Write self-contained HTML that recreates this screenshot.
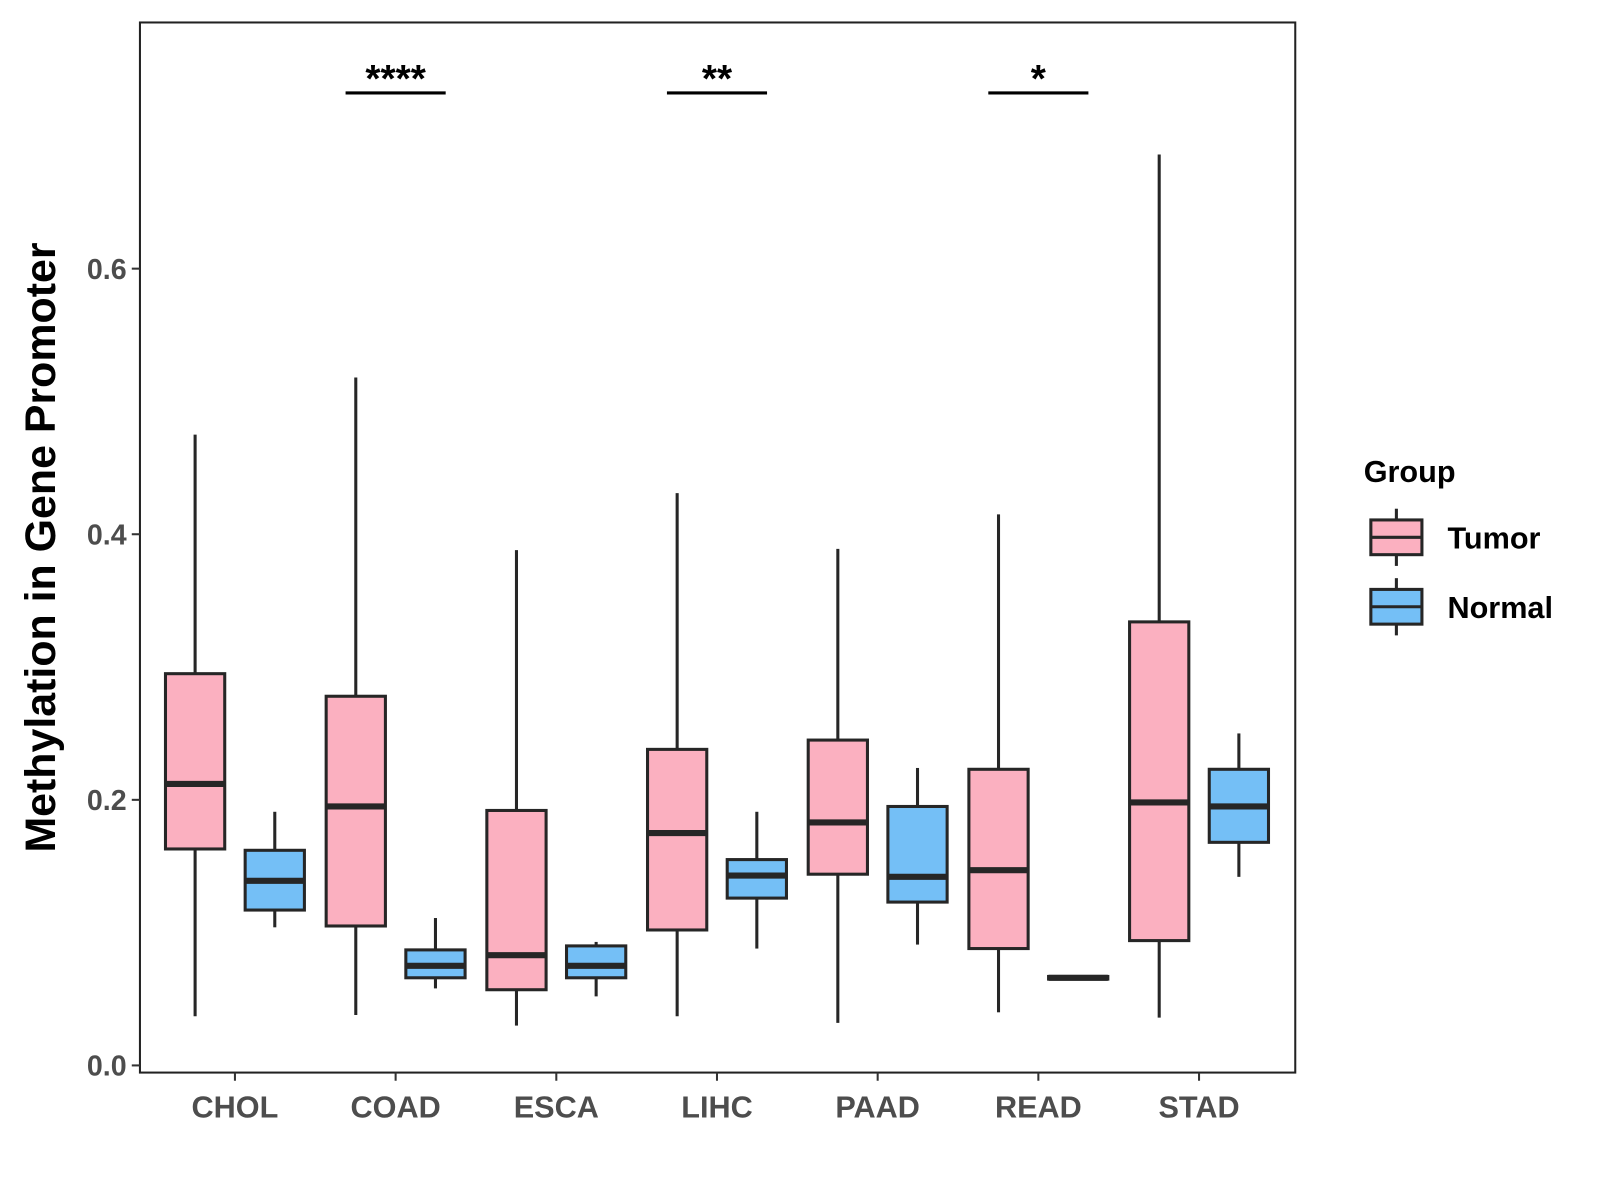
<!DOCTYPE html>
<html><head><meta charset="utf-8"><style>
html,body{margin:0;padding:0;background:#fff;}
svg{display:block;font-family:"Liberation Sans",Arial,sans-serif;}
</style></head><body>
<svg id="chart" width="1600" height="1200" viewBox="0 0 1600 1200">
<g transform="scale(1.0215)">
<rect x="137" y="22" width="1131" height="1028" fill="#fff" stroke="#222" stroke-width="2"/>
<g id="yaxis"></g>
<g id="xaxis"></g>
<g id="boxes"></g>
<g id="sig"></g>
<text x="54" y="536" transform="rotate(-90 54 536)" text-anchor="middle" font-size="42" font-weight="bold" fill="#000">Methylation in Gene Promoter</text>
<g>
<text x="1335" y="472" font-size="30" font-weight="bold" fill="#000">Group</text>
<g>
<line x1="1367" y1="498" x2="1367" y2="554" stroke="#262626" stroke-width="3"/>
<rect x="1342" y="509" width="50" height="34" fill="#FBB0C0" stroke="#262626" stroke-width="3"/>
<line x1="1342" y1="526" x2="1392" y2="526" stroke="#262626" stroke-width="3"/>
<text x="1417" y="537" font-size="30" font-weight="bold" fill="#000">Tumor</text>
</g>
<g>
<line x1="1367" y1="566" x2="1367" y2="622" stroke="#262626" stroke-width="3"/>
<rect x="1342" y="577" width="50" height="34" fill="#74BFF6" stroke="#262626" stroke-width="3"/>
<line x1="1342" y1="594" x2="1392" y2="594" stroke="#262626" stroke-width="3"/>
<text x="1417" y="605" font-size="30" font-weight="bold" fill="#000">Normal</text>
</g>
</g>
</g>
</svg>
<script>
const categories = ["CHOL","COAD","ESCA","LIHC","PAAD","READ","STAD"];
const tumorLow = [0.037,0.038,0.030,0.037,0.032,0.040,0.036];
const tumorQ1 = [0.163,0.105,0.057,0.102,0.144,0.088,0.094];
const tumorMed = [0.212,0.195,0.083,0.175,0.183,0.147,0.198];
const tumorQ3 = [0.295,0.278,0.192,0.238,0.245,0.223,0.334];
const tumorHigh = [0.475,0.518,0.388,0.431,0.389,0.415,0.686];
const normalLow = [0.104,0.058,0.052,0.088,0.091,0.066,0.142];
const normalQ1 = [0.117,0.066,0.066,0.126,0.123,0.065,0.168];
const normalMed = [0.139,0.075,0.075,0.143,0.142,0.066,0.195];
const normalQ3 = [0.162,0.087,0.090,0.155,0.195,0.067,0.223];
const normalHigh = [0.191,0.111,0.093,0.191,0.224,0.066,0.250];
const yTicks = [0.0,0.2,0.4,0.6];
const yTickLabels = ["0.0","0.2","0.4","0.6"];
const sigCategories = ["COAD","LIHC","READ"];
const sigLabels = ["****","**","*"];

const NS="http://www.w3.org/2000/svg";
const yScale = v => 1043 - v*1300;
const xScale = i => 230 + i*157.3;
function mk(tag, attrs, parent){const e=document.createElementNS(NS,tag);for(const k in attrs)e.setAttribute(k,attrs[k]);parent.appendChild(e);return e;}
const ya=document.getElementById('yaxis'), xa=document.getElementById('xaxis'), bx=document.getElementById('boxes'), sg=document.getElementById('sig');
yTicks.forEach((t,i)=>{
  const y=yScale(t);
  const l=mk('line',{x1:129,x2:137,y1:y,y2:y,stroke:'#333','stroke-width':2},ya);
  
  
  const tx=mk('text',{x:124,y:y+10,'text-anchor':'end','font-size':28,'font-weight':'bold',fill:'#4d4d4d'},ya);
  tx.textContent=yTickLabels[i];
  
  
});
categories.forEach((c,i)=>{
  const x=xScale(i);
  const l=mk('line',{x1:x,x2:x,y1:1050,y2:1058,stroke:'#333','stroke-width':2},xa);
  
  
  const tx=mk('text',{x:x,y:1094,'text-anchor':'middle','font-size':30,'font-weight':'bold',fill:'#4d4d4d'},xa);
  tx.textContent=c;
  
  
});
function drawBox(cx,lo,q1,md,q3,hi,fill,name){
  const g=mk('g',{},bx);
  
  
  const st='#262626';
  mk('line',{x1:cx,x2:cx,y1:yScale(hi),y2:yScale(q3),stroke:st,'stroke-width':3},g);
  mk('line',{x1:cx,x2:cx,y1:yScale(q1),y2:yScale(lo),stroke:st,'stroke-width':3},g);
  const top=yScale(q3), bot=yScale(q1);
  mk('rect',{x:cx-29,y:top,width:58,height:Math.max(bot-top,1),fill:fill,stroke:st,'stroke-width':3},g);
  mk('line',{x1:cx-29,x2:cx+29,y1:yScale(md),y2:yScale(md),stroke:st,'stroke-width':6},g);
}
categories.forEach((c,i)=>{
  drawBox(xScale(i)-39,tumorLow[i],tumorQ1[i],tumorMed[i],tumorQ3[i],tumorHigh[i],'#FBB0C0','box-tumor-'+c.toLowerCase());
  drawBox(xScale(i)+39,normalLow[i],normalQ1[i],normalMed[i],normalQ3[i],normalHigh[i],'#74BFF6','box-normal-'+c.toLowerCase());
});
sigCategories.forEach((c,k)=>{
  const x=xScale(categories.indexOf(c));
  const l=mk('line',{x1:x-49,x2:x+49,y1:91,y2:91,stroke:'#000','stroke-width':3},sg);
  
  
  const t=mk('text',{x:x,y:90,'text-anchor':'middle','font-size':38,'font-weight':'bold',fill:'#000'},sg);
  t.textContent=sigLabels[k];
  
  
});
</script>
</body></html>
